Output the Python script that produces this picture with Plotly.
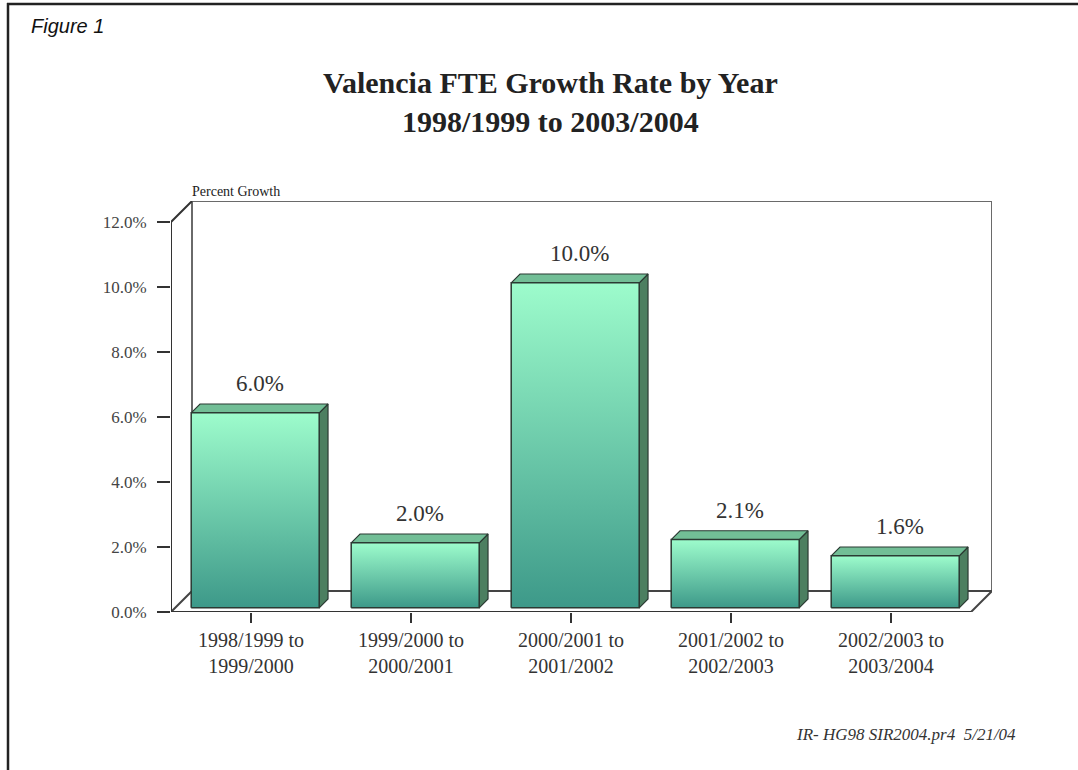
import plotly.graph_objects as go

# ---- data ----
categories = ["1998/1999 to<br>1999/2000", "1999/2000 to<br>2000/2001", "2000/2001 to<br>2001/2002",
              "2001/2002 to<br>2002/2003", "2002/2003 to<br>2003/2004"]
growth = [6.0, 2.0, 10.0, 2.1, 1.6]
value_labels = ["6.0%", "2.0%", "10.0%", "2.1%", "1.6%"]
y_ticks = [0, 2, 4, 6, 8, 10, 12]
y_tick_text = ["0.0%", "2.0%", "4.0%", "6.0%", "8.0%", "10.0%", "12.0%"]

# ---- geometry (pixels -> data) ----
W, H = 1078, 770
PX_X = 160.0      # px per category
PX_Y = 32.5       # px per 1 %
DEPTH = 21.0      # px 3-D depth
dx = DEPTH / PX_X
dy = DEPTH / PX_Y
ymax = 12
x0, x1 = -0.5, len(categories) - 0.5
left_px = 171
bottom_px = 612
plot_w = (x1 + dx - x0) * PX_X
plot_h = (ymax + dy) * PX_Y
m_l = left_px
m_r = W - left_px - plot_w
m_b = H - bottom_px
m_t = H - m_b - plot_h

def px(xp):
    return (xp - m_l) / plot_w

def py(yp):
    return (bottom_px - yp) / plot_h

SERIF = "Liberation Serif, Times New Roman, serif"
SANS = "Liberation Sans, Arial, sans-serif"

fig = go.Figure()

def line(xs, ys, color, width):
    fig.add_trace(go.Scatter(x=xs, y=ys, mode="lines", line=dict(color=color, width=width),
                             hoverinfo="skip", showlegend=False, cliponaxis=False))

# back wall + floor
wall = "#6a6a6a"
line([x0 + dx, x0 + dx, x1 + dx, x1 + dx], [dy, ymax + dy, ymax + dy, dy], wall, 2)
line([x0 + dx, x1 + dx], [dy, dy], "#444", 2)
line([x1, x1 + dx], [0, dy], "#444", 2)
line([x0, x0 + dx], [0, dy], "#444", 2)

# bars
bw = 0.8
z0, z1 = 0.2, 0.62
outline = "#2b3a33"
for i, v in enumerate(growth):
    xl = i - bw / 2
    xr = i + bw / 2
    # side face
    fig.add_trace(go.Scatter(
        x=[xr + z0 * dx, xr + z1 * dx, xr + z1 * dx, xr + z0 * dx, xr + z0 * dx],
        y=[z0 * dy, z1 * dy, v + z1 * dy, v + z0 * dy, z0 * dy],
        mode="lines", fill="toself", fillcolor="#4c7f60",
        line=dict(color=outline, width=1.2), hoverinfo="skip", showlegend=False, cliponaxis=False))
    # top face
    fig.add_trace(go.Scatter(
        x=[xl + z0 * dx, xr + z0 * dx, xr + z1 * dx, xl + z1 * dx, xl + z0 * dx],
        y=[v + z0 * dy, v + z0 * dy, v + z1 * dy, v + z1 * dy, v + z0 * dy],
        mode="lines", fill="toself", fillcolor="#72be96",
        line=dict(color=outline, width=1.2), hoverinfo="skip", showlegend=False, cliponaxis=False))
    # front face with vertical gradient
    fig.add_trace(go.Scatter(
        x=[xl + z0 * dx, xr + z0 * dx, xr + z0 * dx, xl + z0 * dx, xl + z0 * dx],
        y=[z0 * dy, z0 * dy, v + z0 * dy, v + z0 * dy, z0 * dy],
        mode="lines", fill="toself",
        fillgradient=dict(type="vertical", colorscale=[[0, "#3d9989"], [1, "#9dfccc"]]),
        line=dict(color=outline, width=1.5), hoverinfo="skip", showlegend=False, cliponaxis=False))
    fig.add_annotation(x=i + (z0 + z1) / 2 * dx, y=v + z1 * dy, xref="x", yref="y",
                       text=value_labels[i], showarrow=False, yanchor="bottom", yshift=6,
                       font=dict(family=SERIF, size=23, color="#333"))

# front axis lines
front = "#333"
line([x0, x0, x0 + dx], [0, ymax, ymax + dy], front, 2)
line([x0, x1], [0, 0], front, 2)

fig.update_xaxes(range=[x0, x1 + dx], tickvals=list(range(len(categories))), ticktext=categories,
                 ticks="outside", ticklen=10, tickwidth=1.5, tickcolor="#333",
                 showgrid=False, zeroline=False, showline=False,
                 tickfont=dict(family=SERIF, size=20, color="#333"), fixedrange=True)
fig.update_yaxes(range=[0, ymax + dy], tickvals=y_ticks, ticktext=y_tick_text,
                 ticks="outside", ticklen=13, tickwidth=1.5, tickcolor="#333",
                 ticklabelstandoff=7,
                 showgrid=False, zeroline=False, showline=False,
                 tickfont=dict(family=SERIF, size=17, color="#444"), fixedrange=True)

# texts
fig.add_annotation(xref="paper", yref="paper", x=px(550), y=py(102), xanchor="center", yanchor="middle",
                   text="<b>Valencia FTE Growth Rate by Year<br>1998/1999 to 2003/2004</b>",
                   showarrow=False, font=dict(family=SERIF, size=30, color="#222"))
fig.add_annotation(xref="paper", yref="paper", x=px(29), y=py(26), xanchor="left", yanchor="middle",
                   text="<i>Figure 1</i>", showarrow=False, font=dict(family=SANS, size=20, color="#111"))
fig.add_annotation(xref="paper", yref="paper", x=px(190), y=py(191), xanchor="left", yanchor="middle",
                   text="Percent Growth", showarrow=False, font=dict(family=SERIF, size=14, color="#222"))
fig.add_annotation(xref="paper", yref="paper", x=px(1018), y=py(734), xanchor="right", yanchor="middle",
                   text="<i>IR- HG98 SIR2004.pr4  5/21/04</i>", showarrow=False,
                   font=dict(family=SERIF, size=17, color="#333"))

# page border (top and left)
fig.add_shape(type="line", xref="paper", yref="paper", x0=px(7), x1=px(W + 5), y0=py(4), y1=py(4),
              line=dict(color="#222", width=2.5))
fig.add_shape(type="line", xref="paper", yref="paper", x0=px(8), x1=px(8), y0=py(3), y1=py(H + 5),
              line=dict(color="#222", width=2.5))

fig.update_layout(width=W, height=H, margin=dict(l=m_l, r=m_r, t=m_t, b=m_b, pad=0),
                  paper_bgcolor="white", plot_bgcolor="white", showlegend=False)

fig.write_html("out.html")
